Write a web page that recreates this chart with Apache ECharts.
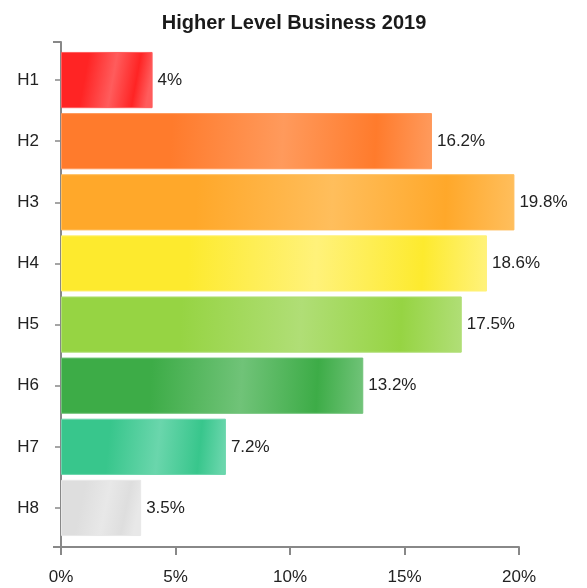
<!DOCTYPE html>
<html lang="en" style="height: 100%">
  <head>
    <meta charset="utf-8" />
  </head>
  <body style="margin: 0; height: 100%">
    <div id="container" style="width: 587px; height: 588px"></div>
    <script type="text/javascript" src="https://cdn.jsdelivr.net/npm/echarts@6/dist/echarts.min.js"></script>
    <script type="text/javascript">
      var categories = ["H1", "H2", "H3", "H4", "H5", "H6", "H7", "H8"];
      var values = [4, 16.2, 19.8, 18.6, 17.5, 13.2, 7.2, 3.5];
      // base colour, highlight colour per bar
      var baseColors = ["#ff2424", "#ff7b2c", "#ffa82a", "#fdea2e", "#96d443", "#3dac47", "#38c68c", "#dedede"];
      var lightColors = ["#ff5c5c", "#ff9a5c", "#ffbe5c", "#fff27a", "#b0de76", "#70c378", "#6ad6ac", "#e8e8e8"];
      var xTicks = [0, 5, 10, 15, 20];

      var dom = document.getElementById("container");
      var myChart = echarts.init(dom, null, { renderer: "canvas" });

      var font = "'Liberation Sans', Arial, sans-serif";
      var axisGray = "#888";

      function barColor(i) {
        return new echarts.graphic.LinearGradient(0, 0, 1, 0.3, [
          { offset: 0, color: baseColors[i] },
          { offset: 0.3, color: baseColors[i] },
          { offset: 0.6, color: lightColors[i] },
          { offset: 0.85, color: baseColors[i] },
          { offset: 1, color: lightColors[i] },
        ]);
      }

      var option = {
        animation: false,
        title: {
          text: "Higher Level Business 2019",
          left: 289,
          textAlign: "center",
          top: 8,
          textStyle: { fontFamily: font, fontSize: 20, fontWeight: "bold", color: "#1a1a1a" },
        },
        grid: [
          { left: 61, right: 68, top: 49.5, bottom: 49.5 },
          { left: 61, right: 68, top: 42, bottom: 41 },
        ],
        xAxis: [
          {
            type: "value",
            gridIndex: 0,
            min: xTicks[0],
            max: xTicks[xTicks.length - 1],
            interval: 5,
            offset: 8.5,
            splitLine: { show: false },
            axisLine: { show: true, lineStyle: { color: axisGray, width: 2 } },
            axisTick: { show: true, length: 8, lineStyle: { color: axisGray, width: 2 } },
            axisLabel: {
              formatter: "{value}%",
              fontFamily: font,
              fontSize: 17,
              color: "#222",
              margin: 22,
            },
          },
          {
            type: "value",
            gridIndex: 1,
            show: false,
            min: 0,
            max: 1,
          },
        ],
        yAxis: [
          {
            type: "category",
            gridIndex: 0,
            data: categories,
            inverse: true,
            axisLine: { show: false },
            axisTick: { show: true, length: 6, alignWithLabel: true, lineStyle: { color: axisGray, width: 1.5 } },
            axisLabel: { fontFamily: font, fontSize: 17, color: "#222", margin: 22 },
          },
          {
            type: "value",
            gridIndex: 1,
            min: 0,
            max: 1,
            interval: 1,
            splitLine: { show: false },
            axisLine: { show: true, lineStyle: { color: axisGray, width: 2 } },
            axisTick: { show: true, length: 8, lineStyle: { color: axisGray, width: 2 } },
            axisLabel: { show: false },
          },
        ],
        series: [
          {
            type: "bar",
            xAxisIndex: 0,
            yAxisIndex: 0,
            barCategoryGap: "8%",
            data: values.map(function (v, i) {
              return {
                value: v,
                itemStyle: { color: barColor(i), borderColor: lightColors[i], borderWidth: 1 },
              };
            }),
            label: {
              show: true,
              position: "right",
              distance: 5,
              formatter: "{c}%",
              fontFamily: font,
              fontSize: 17,
              color: "#222",
            },
          },
        ],
      };

      myChart.setOption(option);
      window.addEventListener("resize", myChart.resize);
    </script>
  </body>
</html>
